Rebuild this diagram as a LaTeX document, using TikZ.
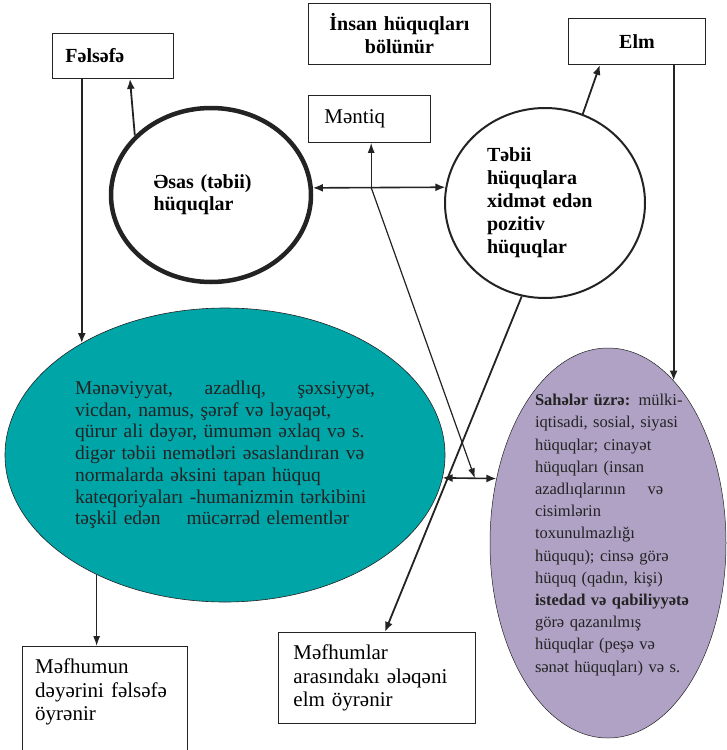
\documentclass[tikz,border=0pt]{standalone}
\usepackage{fontspec}
\setmainfont{Liberation Serif}
\usetikzlibrary{arrows.meta,shapes.geometric}
\definecolor{inkgray}{RGB}{35,35,35}
\definecolor{seateal}{RGB}{0,165,168}
\definecolor{lilac}{RGB}{176,162,197}
\hyphenpenalty=10000
\exhyphenpenalty=10000
\tikzset{
    rectbox/.style={draw=inkgray, line width=0.9pt, anchor=north west, inner ysep=0pt},
    boldtxt/.style={font=\fontsize{20}{23}\selectfont\bfseries},
    plaintxt/.style={font=\fontsize{21}{23.5}\selectfont},
    oval/.style={ellipse, draw=inkgray, inner sep=0pt},
    link/.style={draw=inkgray, line width=1.8pt, -{Latex[length=10pt,width=8pt]}},
    thinlink/.style={draw=inkgray, line width=1.2pt, -{Latex[length=10pt,width=7pt]}},
    twoway/.style={draw=inkgray, line width=1.6pt, {Latex[length=10pt,width=8pt]}-{Latex[length=10pt,width=8pt]}}
}
\begin{document}
\begin{tikzpicture}[x=1pt,y=-1pt]
            \fill[white] (0,0) rectangle (727,750);
            \useasboundingbox (0,0) rectangle (727,750);
            \node [rectbox, boldtxt, minimum width=121pt, minimum height=45pt, inner xsep=13pt, text width=95pt, align=left] (felsefe) at (52,33) {Fəlsəfə};
            \node [rectbox, boldtxt, minimum width=182pt, minimum height=61pt, inner xsep=0pt, text width=182pt, align=center] (bolunur) at (308,3) {İnsan hüquqları\\bölünür};
            \node [rectbox, boldtxt, minimum width=137pt, minimum height=46pt, inner xsep=0pt, text width=137pt, align=center] (elm) at (568,18) {Elm};
            \node [rectbox, plaintxt, minimum width=122pt, minimum height=47pt, inner xsep=16pt, text width=90pt, align=left] (mentiq) at (308,95) {Məntiq};
            \node [oval, boldtxt, line width=4.5pt, minimum width=200pt, minimum height=174pt, text width=115pt, align=left, font=\fontsize{20}{22}\selectfont\bfseries] (esas) at (211,195) {Əsas (təbii)\\hüquqlar};
            \node [oval, boldtxt, line width=2pt, minimum width=200pt, minimum height=190pt, text width=116pt, align=left] (tabii) at (545,203) {Təbii\\hüquqlara\\xidmət edən\\pozitiv\\hüquqlar};
            \node [oval, fill=seateal, line width=0.6pt, minimum width=440pt, minimum height=294pt, text width=300pt, align=left, text=inkgray, font=\fontsize{19.5}{21.7}\selectfont] (teal) at (225,455) {Mənəviyyat,\hfill azadlıq,\hfill şəxsiyyət,\\vicdan, namus, şərəf və ləyaqət,\\qürur ali dəyər, ümumən əxlaq və s.\\digər təbii nemətləri əsaslandıran və\\normalarda əksini tapan hüquq\\kateqoriyaları -humanizmin tərkibini\\təşkil edən\hspace{1em} mücərrəd elementlər};
            \node [oval, fill=lilac, line width=0.5pt, minimum width=236pt, minimum height=390pt] (lilacov) at (608,543) {};
            \node [inner sep=0pt, text width=170pt, align=left, text=inkgray, font=\fontsize{16.5}{22.2}\selectfont] (lilactext) at (620,535) {\textbf{Sahələr üzrə:} mülki-\\iqtisadi, sosial, siyasi\\hüquqlar; cinayət\\hüquqları (insan\\azadlıqlarının\hspace{1em} və\\cisimlərin\\toxunulmazlığı\\hüququ); cinsə görə\\hüquq (qadın, kişi)\\\textbf{istedad və qabiliyyətə}\\görə qazanılmış\\hüquqlar (peşə və\\sənət hüquqları) və s.};
            \node [rectbox, minimum width=165pt, minimum height=110pt] (mefhumun) at (22,646) {};
            \node [plaintxt, anchor=north west, inner sep=0pt, text width=150pt, align=left] (mefhumuntext) at (35,659) {Məfhumun\\dəyərini fəlsəfə\\öyrənir};
            \node [rectbox, plaintxt, minimum width=197pt, minimum height=91pt, inner xsep=15pt, text width=167pt, align=left] (mefhumlar) at (278,632) {Məfhumlar\\arasındakı ələqəni\\elm öyrənir};
            \path (esas.4) -- (tabii.171) coordinate[pos=0.44] (hub);
            \path (teal.-6) -- (lilacov.150) coordinate[pos=0.6] (meet);
            \draw[twoway] (esas.4) -- (tabii.171);
            \draw[twoway] (teal.-6) -- (lilacov.150);
            \draw[thinlink] (hub) -- (hub |- mentiq.south);
            \draw[thinlink] (hub) -- (meet);
            \draw[link] (esas.142) -- ([xshift=17pt]felsefe.south);
            \draw[link] (teal.142 |- felsefe.south) -- (teal.142);
            \draw[link] (tabii.67) -- ([xshift=-37pt]elm.south);
            \draw[link] (lilacov.68 |- elm.south) -- (lilacov.68);
            \draw[link] (tabii.-104) -- ([xshift=8pt]mefhumlar.north);
            \draw[thinlink] (teal.223) -- (teal.223 |- mefhumun.north);
\end{tikzpicture}
\end{document}
